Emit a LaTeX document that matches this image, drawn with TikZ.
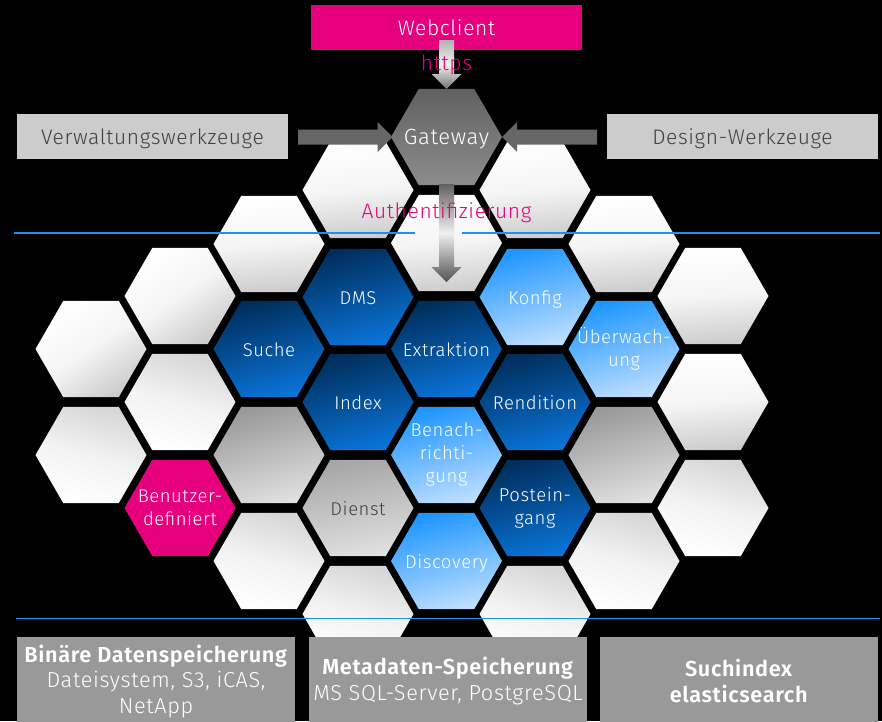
\documentclass[tikz,border=0pt]{standalone}
\usepackage{fontspec}
\setmainfont{Fira Sans Light}[LetterSpace=3,BoldFont={Fira Sans SemiBold}]
\usetikzlibrary{shapes.geometric,calc}
\definecolor{pinkc}{HTML}{E6007E}
\definecolor{bluel}{HTML}{1E90F5}
\definecolor{darktop}{RGB}{0,46,92}
\definecolor{darkbot}{RGB}{10,116,216}
\definecolor{lighttop}{RGB}{30,150,255}
\definecolor{lightbot}{RGB}{190,222,255}
\tikzset{
 hexa/.style={regular polygon,regular polygon sides=6,minimum size=111pt,inner sep=0pt,outer sep=0pt},
 hextext/.style={inner sep=0pt,outer sep=0pt,align=center,font=\fontsize{18.5}{23}\selectfont,text=white},
 hexone/.style={hextext,text height=15pt,text depth=0pt},
 whitehex/.style={hexa,top color=white,bottom color=black!20,middle color=black!4,shading angle=5},
 whitetilt/.style={hexa,top color=white,bottom color=black!20,middle color=black!4,shading angle=35},
 whiterev/.style={hexa,top color=black!16,bottom color=white,middle color=black!5,shading angle=-15},
 grayhex/.style={hexa,top color=black!40,bottom color=black!12,shading angle=15},
 diensthex/.style={hexa,top color=black!35,bottom color=black!12,shading angle=10},
 darkhex/.style={hexa,top color=darktop,bottom color=darkbot,shading angle=15},
 lighthex/.style={hexa,top color=lighttop,bottom color=lightbot,shading angle=15},
 pinkhex/.style={hexa,fill=pinkc},
 gatehex/.style={hexa,top color=black!62,bottom color=black!45},
 topbox/.style={minimum width=271pt,minimum height=45pt,inner sep=0pt,outer sep=0pt,fill=black!20,text=black!75,text height=15pt,text depth=0pt,font=\fontsize{21}{25}\selectfont},
 webbox/.style={topbox,fill=pinkc,text=white},
 botbox/.style={minimum width=278pt,minimum height=88pt,inner sep=0pt,outer sep=0pt,fill=black!40,text=white,align=center,font=\fontsize{21.7}{25.5}\selectfont},
 pinklabel/.style={text=pinkc,inner sep=0pt,font=\fontsize{21}{25}\selectfont},
 blueline/.style={draw=bluel,line width=1.8pt},
 blockarrow/.style={to path={
   -- ($(\tikztostart)!7.5pt!90:(\tikztotarget)$)
   -- ($($(\tikztotarget)!15pt!(\tikztostart)$)!7.5pt!90:(\tikztotarget)$)
   -- ($($(\tikztotarget)!15pt!(\tikztostart)$)!15pt!90:(\tikztotarget)$)
   -- (\tikztotarget)
   -- ($($(\tikztotarget)!15pt!(\tikztostart)$)!15pt!-90:(\tikztotarget)$)
   -- ($($(\tikztotarget)!15pt!(\tikztostart)$)!7.5pt!-90:(\tikztotarget)$)
   -- ($(\tikztostart)!7.5pt!-90:(\tikztotarget)$)
   -- cycle}},
}
\begin{document}
\begin{tikzpicture}[x=1pt,y=-1pt]
\useasboundingbox (0,0) rectangle (882,721);
\fill[black] (0,0) rectangle (882,721);
% hexagons
\node[whitetilt] (a1) at (91,349) {};
\node[whiterev] (a2) at (91,455) {};
\node[whitetilt] (b1) at (180,296) {};
\node[whiterev] (b2) at (180,402) {};
\node[pinkhex,label={[hextext]center:Benutzer-\\definiert}] (b3) at (180,508) {};
\node[whitehex] (c1) at (269,244) {};
\node[darkhex,label={[hexone]center:Suche}] (c2) at (269,349) {};
\node[grayhex] (c3) at (269,455) {};
\node[whiterev] (c4) at (269,561) {};
\node[whitehex] (d1) at (358,190) {};
\node[darkhex,label={[hexone]center:DMS}] (d2) at (358,297) {};
\node[darkhex,label={[hexone]center:Index}] (d3) at (358,402) {};
\node[diensthex,label={[hexone,text=black!75]center:Dienst}] (d4) at (358,508) {};
\node[whiterev] (d5) at (358,614) {};
\node[gatehex,label={[hexone,text height=15pt,font=\fontsize{22}{25}\selectfont]center:Gateway}] (gw) at (446.5,137) {};
\node[whitehex] (e1) at (446.5,243) {};
\node[darkhex,label={[hexone]center:Extraktion}] (e2) at (446.5,349) {};
\node[lighthex,label={[hextext]center:Benach-\\richti-\\gung}] (e3) at (446.5,455) {};
\node[lighthex,label={[hexone]center:Discovery}] (e4) at (446.5,561) {};
\node[whitehex] (f1) at (535,190) {};
\node[lighthex,label={[hexone]center:Konfig}] (f2) at (535,297) {};
\node[darkhex,label={[hexone]center:Rendition}] (f3) at (535,402) {};
\node[darkhex,label={[hextext]center:Postein-\\gang}] (f4) at (535,508) {};
\node[whiterev] (f5) at (535,614) {};
\node[whitehex] (g1) at (624,244) {};
\node[lighthex,label={[hextext]center:Überwach-\\ung}] (g2) at (624,349) {};
\node[grayhex] (g3) at (624,455) {};
\node[whiterev] (g4) at (624,561) {};
\node[whitehex] (h1) at (713,296) {};
\node[whitehex] (h2) at (713,402) {};
\node[whiterev] (h3) at (713,508) {};
% lines
\coordinate (l1a) at (14,233); \coordinate (l1b) at (415,233);
\coordinate (l2a) at (462,233); \coordinate (l2b) at (880,233);
\coordinate (l3a) at (16,618.5); \coordinate (l3b) at (880,618.5);
\draw[blueline] (l1a) -- (l1b);
\draw[blueline] (l2a) -- (l2b);
\draw[blueline] (l3a) -- (l3b);
% boxes
\node[webbox] (web) at (446.5,27.5) {Webclient};
\node[topbox] (verw) at (152.5,136.5) {Verwaltungswerkzeuge};
\node[topbox] (design) at (742.5,136.5) {Design-Werkzeuge};
\node[botbox,anchor=north] (bin) at (156,637) {\textbf{Binäre Datenspeicherung}\\Dateisystem, S3, iCAS,\\NetApp};
\node[botbox,anchor=north] (meta) at (448,637) {\textbf{Metadaten-Speicherung}\\MS SQL-Server, PostgreSQL};
\node[botbox,anchor=north] (such) at (739,637) {\textbf{Suchindex}\\\textbf{elasticsearch}};
% arrows
\coordinate (webs) at (446.5,40);
\coordinate (gwtop) at (446.5,89);
\coordinate (gwbot) at (446.5,184);
\coordinate (auth) at (446.5,282);
\coordinate (verwe) at (298,137);
\coordinate (gwl) at (392.5,137);
\coordinate (desw) at (597,137);
\coordinate (gwr) at (502,137);
\shade[blockarrow,top color=black!30,bottom color=black!55,middle color=black!6] (webs) to (gwtop);
\shade[blockarrow,top color=black!62,bottom color=black!68,middle color=black!6] (gwbot) to (auth);
\fill[blockarrow,black!60] (verwe) to (gwl);
\fill[blockarrow,black!60] (desw) to (gwr);
% labels
\node[pinklabel] (https) at (446.5,65) {https};
\node[pinklabel] (authl) at (446.5,213) {Authentifizierung};
\end{tikzpicture}
\end{document}
